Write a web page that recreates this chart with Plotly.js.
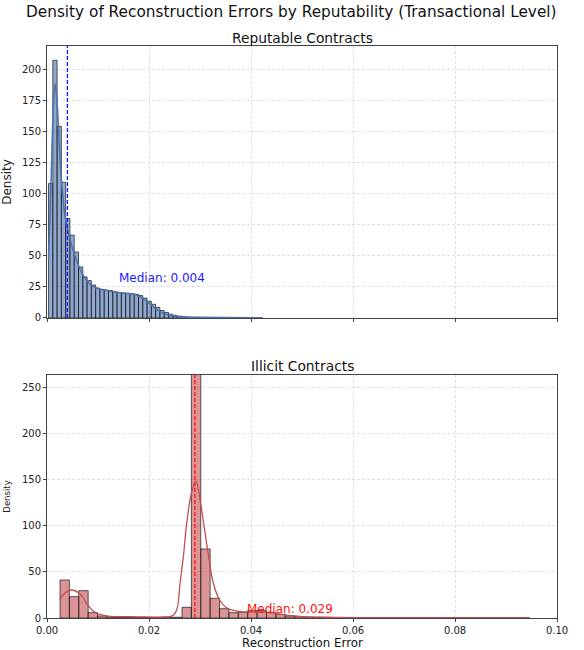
<!DOCTYPE html>
<html>
<head>
<meta charset="utf-8">
<script src="https://cdn.plot.ly/plotly-3.0.1.min.js"></script>
<style>html,body{margin:0;padding:0;background:#fff;}#chart{width:584px;height:650px;}</style>
</head>
<body>
<div id="chart"></div>
<script>
// ---- Reputable contracts: histogram (density) ----
const repBinStart = 0.0003;
const repBinWidth = 0.00084;
const repDensity = [108, 207, 154, 109, 80, 66.5, 53, 41, 33, 30,
  26.5, 24, 23, 22.5, 22, 21, 20.5, 20, 19.8, 19.5,
  19, 18, 16, 13.5, 11, 8.5, 6, 4.5, 3, 2,
  1.5, 1.1, 0.8, 0.6, 0.5, 0.4, 0.35, 0.3, 0.3, 0.25,
  0.2, 0.2, 0.2, 0.15, 0.15, 0.1, 0.1, 0.1, 0.1, 0.1];
// KDE curve
const repKdeX = [0.0003, 0.0008, 0.0012, 0.0016, 0.0020, 0.0025, 0.0030, 0.0036, 0.0042, 0.005,
  0.006, 0.007, 0.008, 0.009, 0.010, 0.011, 0.012, 0.013, 0.014, 0.015,
  0.016, 0.017, 0.018, 0.019, 0.020, 0.021, 0.022, 0.023, 0.024, 0.025,
  0.027, 0.030, 0.035, 0.042];
const repKdeY = [47, 110, 165, 188, 172, 132, 102, 80, 68, 56,
  44, 35, 29, 25.5, 23.5, 22.5, 21.8, 21, 20.5, 20,
  19.6, 19, 17.5, 15, 12, 8.5, 5.5, 3.5, 2.2, 1.4,
  0.8, 0.5, 0.3, 0.1];
const repMedian = 0.004;

// ---- Illicit contracts ----
const illBinStart = 0.00255;
const illBinWidth = 0.00184;
const illDensity = [41.3, 23.2, 29.7, 5.8, 2.2, 1.0, 0.6, 0.6, 0.5, 0.6,
  0.6, 0.8, 0.8, 11.6, 281, 75, 21.4, 10.1, 5.8, 6.2,
  8, 8, 6.2, 4, 2.2, 1.5, 1.0, 0.8, 0.6, 0.5,
  0.4, 0.4, 0.3, 0.3, 0.3, 0.2, 0.2, 0.2, 0.2, 0.2,
  0.2, 0.15, 0.15, 0.15, 0.1, 0.1, 0.1, 0.1, 0.1, 0.1];
const illKdeX = [0.0025, 0.0035, 0.0048, 0.0065, 0.008, 0.009, 0.010, 0.012, 0.015, 0.018,
  0.021, 0.023, 0.0240, 0.0248, 0.0255, 0.0261, 0.0268, 0.0274, 0.0283, 0.0292,
  0.0301, 0.0313, 0.0326, 0.0339, 0.035, 0.036, 0.038, 0.040, 0.042, 0.044,
  0.046, 0.048, 0.050, 0.055, 0.060, 0.070, 0.080, 0.0947];
const illKdeY = [20, 27, 30.4, 26, 14, 8, 4.5, 2, 1.5, 1.3,
  1.0, 1.2, 1.6, 3, 10, 38, 70, 103, 135, 149,
  125, 81, 38, 19, 12, 9, 7, 6.5, 6.5, 5.5,
  4, 2.5, 1.5, 0.8, 0.5, 0.3, 0.2, 0.1];
const illMedian = 0.029;

// tick labels
const xTickVals = [0, 0.02, 0.04, 0.06, 0.08, 0.10];
const xTickText = ['0.00', '0.02', '0.04', '0.06', '0.08', '0.10'];
const repYTicks = [0, 25, 50, 75, 100, 125, 150, 175, 200];
const illYTicks = [0, 50, 100, 150, 200, 250];

const centers = (start, w, arr) => arr.map((_, i) => start + w * (i + 0.5));

const FONT = 'DejaVu Sans, sans-serif';

const traces = [
  {type: 'bar', x: centers(repBinStart, repBinWidth, repDensity), y: repDensity,
   width: repBinWidth, xaxis: 'x', yaxis: 'y',
   marker: {color: 'rgba(76,114,176,0.62)', line: {color: 'rgba(20,20,20,0.85)', width: 0.8}},
   hoverinfo: 'skip', showlegend: false},
  {type: 'scatter', mode: 'lines', x: repKdeX, y: repKdeY, xaxis: 'x', yaxis: 'y',
   line: {color: '#4c72b0', width: 1.5, shape: 'spline'}, showlegend: false},
  {type: 'scatter', mode: 'lines', x: [repMedian, repMedian], y: [0, 218.5], xaxis: 'x', yaxis: 'y',
   line: {color: '#1a1aff', width: 1.3, dash: '4px,2px'}, showlegend: false},
  {type: 'bar', x: centers(illBinStart, illBinWidth, illDensity), y: illDensity,
   width: illBinWidth, xaxis: 'x2', yaxis: 'y2',
   marker: {color: 'rgba(196,78,82,0.6)', line: {color: 'rgba(20,20,20,0.85)', width: 0.8}},
   hoverinfo: 'skip', showlegend: false},
  {type: 'scatter', mode: 'lines', x: illKdeX, y: illKdeY, xaxis: 'x2', yaxis: 'y2',
   line: {color: '#c44e52', width: 1.3, shape: 'spline'}, showlegend: false},
  {type: 'scatter', mode: 'lines', x: [illMedian, illMedian], y: [0, 264], xaxis: 'x2', yaxis: 'y2',
   line: {color: '#ff1010', width: 1.3, dash: '4px,2px'}, showlegend: false}
];

const axisCommon = {
  showline: true, mirror: true, linecolor: '#444', linewidth: 1,
  ticks: 'outside', ticklen: 3, tickcolor: '#444',
  showgrid: true, gridcolor: '#d4d4d4', griddash: '3px,2px', gridwidth: 0.7,
  zeroline: false, tickfont: {family: FONT, size: 10, color: '#222'}
};

const layout = {
  width: 584, height: 650,
  margin: {l: 47, r: 27, t: 46, b: 32},
  paper_bgcolor: '#fff', plot_bgcolor: '#fff',
  bargap: 0,
  font: {family: FONT, color: '#222'},
  xaxis: Object.assign({}, axisCommon, {domain: [0, 1], anchor: 'y', range: [0, 0.1],
    tickvals: xTickVals, showticklabels: false}),
  yaxis: Object.assign({}, axisCommon, {domain: [0.5245, 1], anchor: 'x', range: [0, 218.5],
    tickvals: repYTicks,
    title: {text: 'Density', font: {family: FONT, size: 12, color: '#222'}, standoff: 7}}),
  xaxis2: Object.assign({}, axisCommon, {domain: [0, 1], anchor: 'y2', range: [0, 0.1],
    tickvals: xTickVals, ticktext: xTickText}),
  yaxis2: Object.assign({}, axisCommon, {domain: [0, 0.4248], anchor: 'x2', range: [0, 264],
    tickvals: illYTicks,
    title: {text: 'Density', font: {family: FONT, size: 8.5, color: '#222'}, standoff: 9}}),
  annotations: [
    {text: 'Density of Reconstruction Errors by Reputability (Transactional Level)',
     xref: 'paper', yref: 'paper', x: 0.479, y: 1.0594, xanchor: 'center', yanchor: 'middle',
     showarrow: false, font: {family: FONT, size: 15.3, color: '#111'}},
    {text: 'Reputable Contracts', xref: 'paper', yref: 'paper', x: 0.5, y: 1.014,
     xanchor: 'center', yanchor: 'middle', showarrow: false, font: {family: FONT, size: 13.8, color: '#111'}},
    {text: 'Illicit Contracts', xref: 'paper', yref: 'paper', x: 0.5, y: 0.4406,
     xanchor: 'center', yanchor: 'middle', showarrow: false, font: {family: FONT, size: 13.8, color: '#111'}},
    {text: 'Reconstruction Error', xref: 'paper', yref: 'paper', x: 0.5, y: -0.0442,
     xanchor: 'center', yanchor: 'middle', showarrow: false, font: {family: FONT, size: 11.8, color: '#111'}},
    {text: 'Median: ' + repMedian.toFixed(3), xref: 'x', yref: 'y', x: repMedian + 0.01, y: 26,
     xanchor: 'left', yanchor: 'bottom', showarrow: false, borderpad: 0,
     font: {family: FONT, size: 12, color: '#1a1aff'}},
    {text: 'Median: ' + illMedian.toFixed(3), xref: 'x2', yref: 'y2', x: illMedian + 0.01, y: 1.5,
     xanchor: 'left', yanchor: 'bottom', showarrow: false, borderpad: 0,
     font: {family: FONT, size: 12, color: '#ff1010'}}
  ]
};

Plotly.newPlot('chart', traces, layout, {displayModeBar: false, staticPlot: true});
</script>
</body>
</html>
